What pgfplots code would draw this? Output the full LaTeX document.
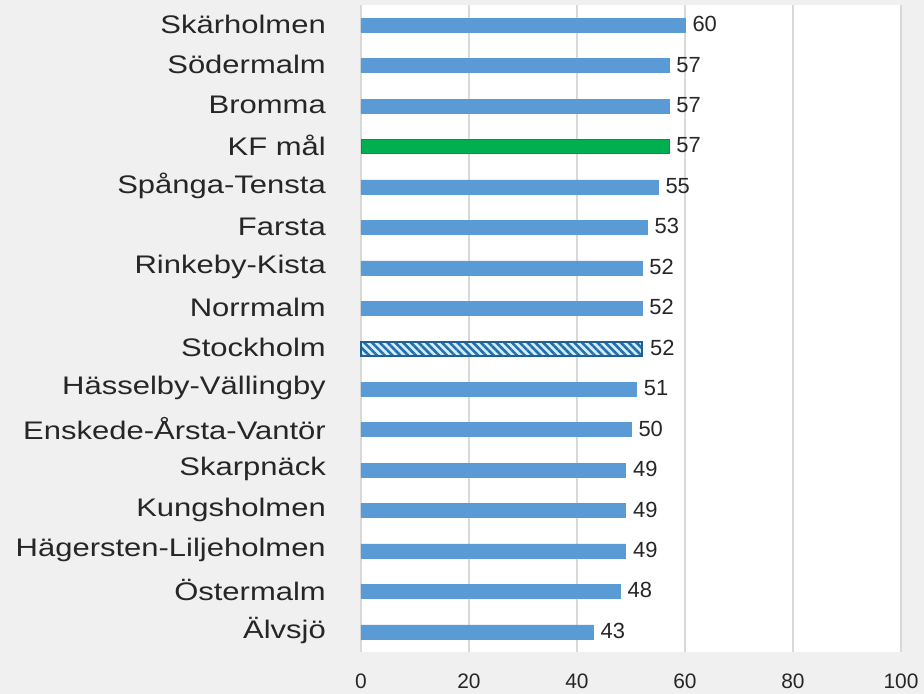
\documentclass[border=0pt]{standalone}
\usepackage{pgfplots}
\pgfplotsset{compat=1.18}
\usepackage{fontspec}
\setmainfont{Liberation Sans}
\newfontfamily\catfont{Liberation Sans}[FakeStretch=1.22]
\usetikzlibrary{patterns.meta}
\definecolor{barblue}{HTML}{5B9BD5}
\definecolor{kfgreen}{HTML}{00B050}
\definecolor{hatchdark}{HTML}{2470AE}
\definecolor{hatchlight}{HTML}{D2ECFA}
\definecolor{bgc}{HTML}{F0F0F0}
\definecolor{gridc}{HTML}{D9D9D9}
\pgfplotstableread{
y v
0 60
1 57
2 57
4 55
5 53
6 52
7 52
9 51
10 50
11 49
12 49
13 49
14 48
15 43
}\maindata
\begin{document}
\begin{tikzpicture}
\fill[bgc] (-361bp,-42bp) rectangle (563bp,652bp);
\begin{axis}[
  at={(0,0)}, anchor=south west,
  scale only axis,
  width=540bp, height=647bp,
  xbar, bar width=14bp,
  xmin=0, xmax=100,
  ymin=-0.5, ymax=15.5,
  y dir=reverse,
  xtick={0,20,...,100},
  ytick={0,...,15},
  yticklabels={Skärholmen,Södermalm,Bromma,KF mål,Spånga-Tensta,Farsta,Rinkeby-Kista,Norrmalm,Stockholm,Hässelby-Vällingby,Enskede-Årsta-Vantör,Skarpnäck,Kungsholmen,Hägersten-Liljeholmen,Östermalm,Älvsjö},
  axis background/.style={fill=white},
  axis line style={draw=none},
  major tick length=0pt,
  tick style={draw=none},
  xmajorgrids,
  grid style={gridc, line width=1.3bp},
  /pgf/number format/assume math mode=true,
  yticklabel style={font=\catfont\fontsize{25.5}{29}\selectfont, inner sep=0pt, xshift=-35bp, yshift=1bp, text=black!85},
  xticklabel style={font=\fontsize{21}{25}\selectfont, inner sep=0pt, yshift=-22bp, text=black!85},
  nodes near coords,
  every node near coord/.append style={font=\fontsize{22}{26}\selectfont, text=black!85, anchor=west, xshift=4bp, yshift=1bp},
  clip=false,
]
\addplot[fill=barblue, draw=barblue, bar shift=0pt] table[x=v, y=y] {\maindata};
\addplot[fill=kfgreen, draw=kfgreen!85!black, bar shift=0pt] coordinates {(57,3)};
\addplot[fill=hatchlight, draw=hatchdark!85!black, line width=2.2bp, bar shift=0pt,
  postaction={pattern={Lines[angle=-45, distance=5.5bp, line width=2.6bp]}, pattern color=hatchdark}] coordinates {(52,8)};
\end{axis}
\end{tikzpicture}
\end{document}
